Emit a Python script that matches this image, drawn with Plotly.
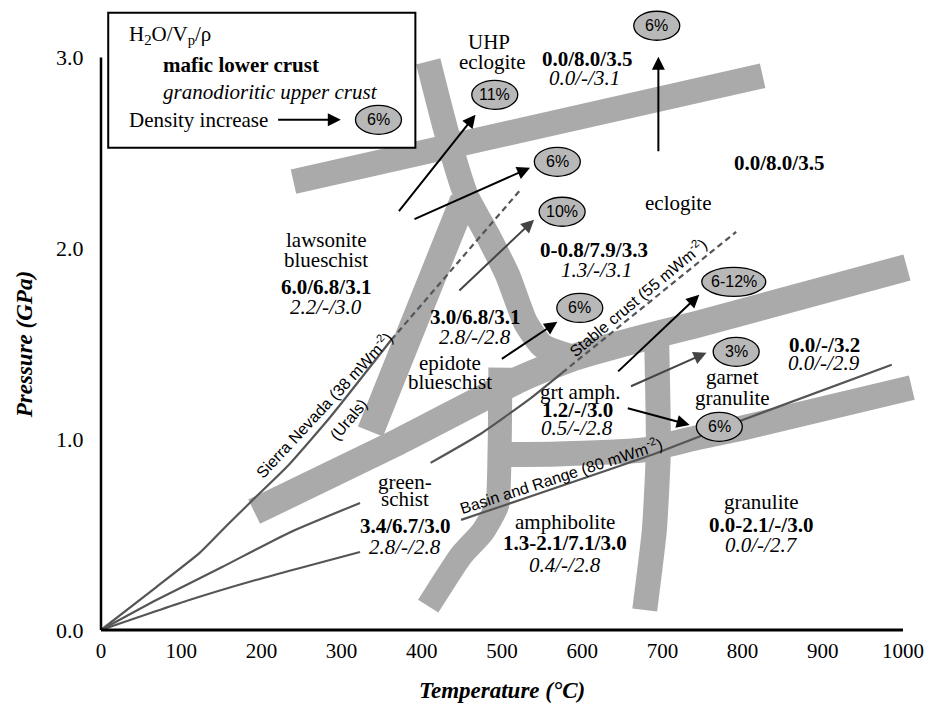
import plotly.graph_objects as go

# ---------------- data (T in degC, P in GPa) ----------------
# facies-boundary bands (centre lines)
band_uhp_T = [240, 825]
band_uhp_P = [2.35, 2.905]

band_ecl_T = [408, 430, 455, 482, 507, 529, 550, 587]
band_ecl_P = [2.98, 2.62, 2.28, 2.07, 1.86, 1.615, 1.49, 1.43]

band_law_T = [452, 336]
band_law_P = [2.255, 1.04]

band_gs_T = [191, 370, 525, 587, 680, 742, 1005]
band_gs_P = [0.62, 0.985, 1.32, 1.425, 1.535, 1.60, 1.90]

band_amph_T = [498, 497, 494, 476, 449, 408]
band_amph_P = [1.375, 0.945, 0.655, 0.515, 0.39, 0.125]

band_low_T = [494, 569, 677, 742, 800, 1011]
band_low_P = [0.92, 0.923, 0.944, 1.007, 1.059, 1.27]

band_gran_T = [693, 695, 690, 678]
band_gran_P = [1.495, 0.944, 0.524, 0.105]

# geotherms
sierra_T = [0, 69, 123, 160, 193, 234, 288, 362]
sierra_P = [0, 0.225, 0.404, 0.561, 0.697, 0.865, 1.127, 1.521]
sierra_dash_T = [362, 523]
sierra_dash_P = [1.521, 2.307]

stable_T = [0, 69, 151, 234, 323, None, 411, 471, 533, 575]
stable_P = [0, 0.157, 0.33, 0.509, 0.666, None, 0.876, 1.022, 1.206, 1.348]
stable_dash_T = [575, 792]
stable_dash_P = [1.348, 2.087]

basin_T = [0, 110, 193, 323, None, 449, 693, 800, 986]
basin_P = [0, 0.157, 0.262, 0.409, None, 0.577, 0.928, 1.101, 1.39]

# density-increase ellipses
pct_text = ["11%", "6%", "10%", "6%", "6%", "6-12%", "3%", "6%"]
pct_T = [491, 569, 575, 597, 693, 789, 792, 771]
pct_P = [2.805, 2.454, 2.192, 1.688, 3.167, 1.825, 1.458, 1.065]

# arrows (tail -> head)
arr_tail_T = [370, 389, 445, 498, 695, 643, 659, 655]
arr_tail_P = [2.187, 2.150, 1.772, 1.416, 2.501, 1.348, 1.274, 1.164]
arr_head_T = [467, 535, 540, 569, 695, 746, 755, 734]
arr_head_P = [2.701, 2.423, 2.150, 1.615, 3.005, 1.757, 1.453, 1.075]
arr_gray = [False, False, True, False, False, False, True, False]

# facies labels: text, T, P, style
lab_text = ["UHP", "eclogite", "0.0/8.0/3.5", "0.0/-/3.1", "0.0/8.0/3.5", "eclogite",
            "lawsonite", "blueschist", "6.0/6.8/3.1", "2.2/-/3.0",
            "0-0.8/7.9/3.3", "1.3/-/3.1", "3.0/6.8/3.1", "2.8/-/2.8",
            "epidote", "blueschist", "grt amph.", "1.2/-/3.0", "0.5/-/2.8",
            "garnet", "granulite", "0.0/-/3.2", "0.0/-/2.9",
            "green-", "schist", "3.4/6.7/3.0", "2.8/-/2.8",
            "amphibolite", "1.3-2.1/7.1/3.0", "0.4/-/2.8",
            "granulite", "0.0-2.1/-/3.0", "0.0/-/2.7"]
lab_T = [484, 487, 606, 603, 845, 720,
         280, 280, 280, 280,
         615, 618, 466, 466,
         435, 435, 597, 594, 594,
         788, 788, 902, 902,
         379, 379, 379, 379,
         579, 579, 579,
         823, 823, 823]
lab_P = [3.083, 2.979, 2.994, 2.895, 2.449, 2.239,
         2.045, 1.940, 1.799, 1.694,
         1.993, 1.888, 1.641, 1.536,
         1.400, 1.300, 1.248, 1.154, 1.059,
         1.327, 1.217, 1.494, 1.400,
         0.776, 0.687, 0.545, 0.435,
         0.566, 0.456, 0.341,
         0.671, 0.551, 0.446]
lab_style = ["r", "r", "b", "i", "b", "r",
             "r", "r", "b", "i",
             "b", "i", "b", "i",
             "r", "r", "r", "b", "i",
             "r", "r", "b", "i",
             "r", "r", "b", "i",
             "r", "b", "i",
             "r", "b", "i"]

# geotherm labels
geo_text = ["Sierra Nevada (38 mWm<sup>-2</sup>)", "(Urals)",
            "Stable crust (55 mWm<sup>-2</sup>)", "Basin and Range (80 mWm<sup>-2</sup>)"]
geo_T = [277, 309, 669, 574]
geo_P = [1.18, 1.101, 1.744, 0.813]
geo_angle = [-47, -50, -40, -18]

x_ticks = [0, 100, 200, 300, 400, 500, 600, 700, 800, 900, 1000]
y_ticks = [0, 1, 2, 3]
y_ticktext = ["0.0", "1.0", "2.0", "3.0"]

# ---------------- figure ----------------
SERIF = "Liberation Serif"
SANS = "Liberation Sans"
BAND = "#aaaaaa"
GEO = "#555555"

fig = go.Figure()

def band(T, P, w=25):
    fig.add_trace(go.Scatter(x=T, y=P, mode="lines",
                             line=dict(color=BAND, width=w, shape="spline", smoothing=0.5),
                             hoverinfo="skip", showlegend=False))

band(band_uhp_T, band_uhp_P, 25)
band(band_ecl_T, band_ecl_P, 25)
band(band_law_T, band_law_P, 27)
band(band_gs_T, band_gs_P, 27)
band(band_amph_T, band_amph_P, 24)
band(band_low_T, band_low_P, 25)
band(band_gran_T, band_gran_P, 25)

def geo(T, P, dash="solid"):
    fig.add_trace(go.Scatter(x=T, y=P, mode="lines",
                             line=dict(color=GEO, width=2.2, dash=dash, shape="spline", smoothing=0.5),
                             connectgaps=False, hoverinfo="skip", showlegend=False))

geo(sierra_T, sierra_P)
geo(sierra_dash_T, sierra_dash_P, "6px,4px")
geo(stable_T, stable_P)
geo(stable_dash_T, stable_dash_P, "6px,4px")
geo(basin_T, basin_P)

shapes = []
ann = []

# legend box
shapes.append(dict(type="rect", xref="x", yref="y", x0=9, x1=392, y0=2.527, y1=3.235,
                   line=dict(color="black", width=2), fillcolor="white", layer="above"))
leg = [
    dict(x=33, y=3.12, text="H<sub>2</sub>O/V<sub>p</sub>/ρ"),
    dict(x=75, y=2.963, text="<b>mafic lower crust</b>"),
    dict(x=75, y=2.821, text="<i>granodioritic upper crust</i>"),
    dict(x=33, y=2.674, text="Density increase"),
]
for a in leg:
    a.update(xref="x", yref="y", showarrow=False, xanchor="left", yanchor="middle",
             font=dict(family=SERIF, size=21, color="black"))
ann += leg
ann.append(dict(x=299, y=2.674, ax=219, ay=2.674, xref="x", yref="y", axref="x", ayref="y",
                text="", showarrow=True, arrowhead=2, arrowsize=1.3, arrowwidth=2,
                arrowcolor="black", standoff=0, startstandoff=0))

def ellipse(T, P, label, rx=23, ry=14.5):
    shapes.append(dict(type="circle", xref="x", yref="y", xsizemode="pixel", ysizemode="pixel",
                       xanchor=T, yanchor=P, x0=-rx, x1=rx, y0=-ry, y1=ry,
                       fillcolor="#b8b8b8", line=dict(color="black", width=1.3), layer="above"))
    ann.append(dict(x=T, y=P, xref="x", yref="y", text=label, showarrow=False,
                    xanchor="center", yanchor="middle",
                    font=dict(family=SANS, size=16, color="black")))

ellipse(346, 2.674, "6%")
for t, T, P in zip(pct_text, pct_T, pct_P):
    ellipse(T, P, t, rx=32 if len(t) > 3 else 23)

for tT, tP, hT, hP, g in zip(arr_tail_T, arr_tail_P, arr_head_T, arr_head_P, arr_gray):
    ann.append(dict(x=hT, y=hP, ax=tT, ay=tP, xref="x", yref="y", axref="x", ayref="y",
                    text="", showarrow=True, arrowhead=2, arrowsize=1.3, arrowwidth=2,
                    arrowcolor="#444444" if g else "black", standoff=0, startstandoff=0))

for t, T, P, s in zip(lab_text, lab_T, lab_P, lab_style):
    txt = {"r": t, "b": "<b>%s</b>" % t, "i": "<i>%s</i>" % t}[s]
    ann.append(dict(x=T, y=P, xref="x", yref="y", text=txt, showarrow=False,
                    xanchor="center", yanchor="middle",
                    font=dict(family=SERIF, size=21, color="black")))

for t, T, P, a in zip(geo_text, geo_T, geo_P, geo_angle):
    ann.append(dict(x=T, y=P, xref="x", yref="y", text=t, showarrow=False, textangle=a,
                    xanchor="center", yanchor="middle",
                    font=dict(family=SANS, size=16, color="black")))

# axis lines
shapes.append(dict(type="line", xref="paper", yref="y", x0=0, x1=0, y0=0, y1=3.0,
                   line=dict(color="black", width=2.5), layer="above"))
shapes.append(dict(type="line", xref="x", yref="paper", x0=0, x1=1000, y0=0, y1=0,
                   line=dict(color="black", width=3), layer="above"))

# axis titles
ann.append(dict(xref="paper", yref="y", x=-0.093, y=1.494, text="<b><i>Pressure (GPa)</i></b>",
                textangle=-90, showarrow=False, xanchor="center", yanchor="middle",
                font=dict(family=SERIF, size=23, color="black")))
ann.append(dict(xref="x", yref="paper", x=500, y=-0.0965, text="<b><i>Temperature (°C)</i></b>",
                showarrow=False, xanchor="center", yanchor="middle",
                font=dict(family=SERIF, size=23, color="black")))

fig.update_layout(
    width=916, height=696,
    margin=dict(l=93, r=4, t=0, b=74),
    paper_bgcolor="white", plot_bgcolor="white",
    shapes=shapes, annotations=ann, showlegend=False,
    xaxis=dict(range=[0, 1015], tickvals=x_ticks, showgrid=False, zeroline=False, showline=False,
               ticks="outside", ticklen=2, tickcolor="rgba(0,0,0,0)", ticklabeloverflow="allow",
               tickfont=dict(family=SERIF, size=21, color="black")),
    yaxis=dict(range=[0, 3.26], tickvals=y_ticks, ticktext=y_ticktext, showgrid=False,
               zeroline=False, showline=False, ticks="outside", ticklen=12,
               tickcolor="rgba(0,0,0,0)", tickfont=dict(family=SERIF, size=22, color="black")),
)

fig.write_html("out.html")
